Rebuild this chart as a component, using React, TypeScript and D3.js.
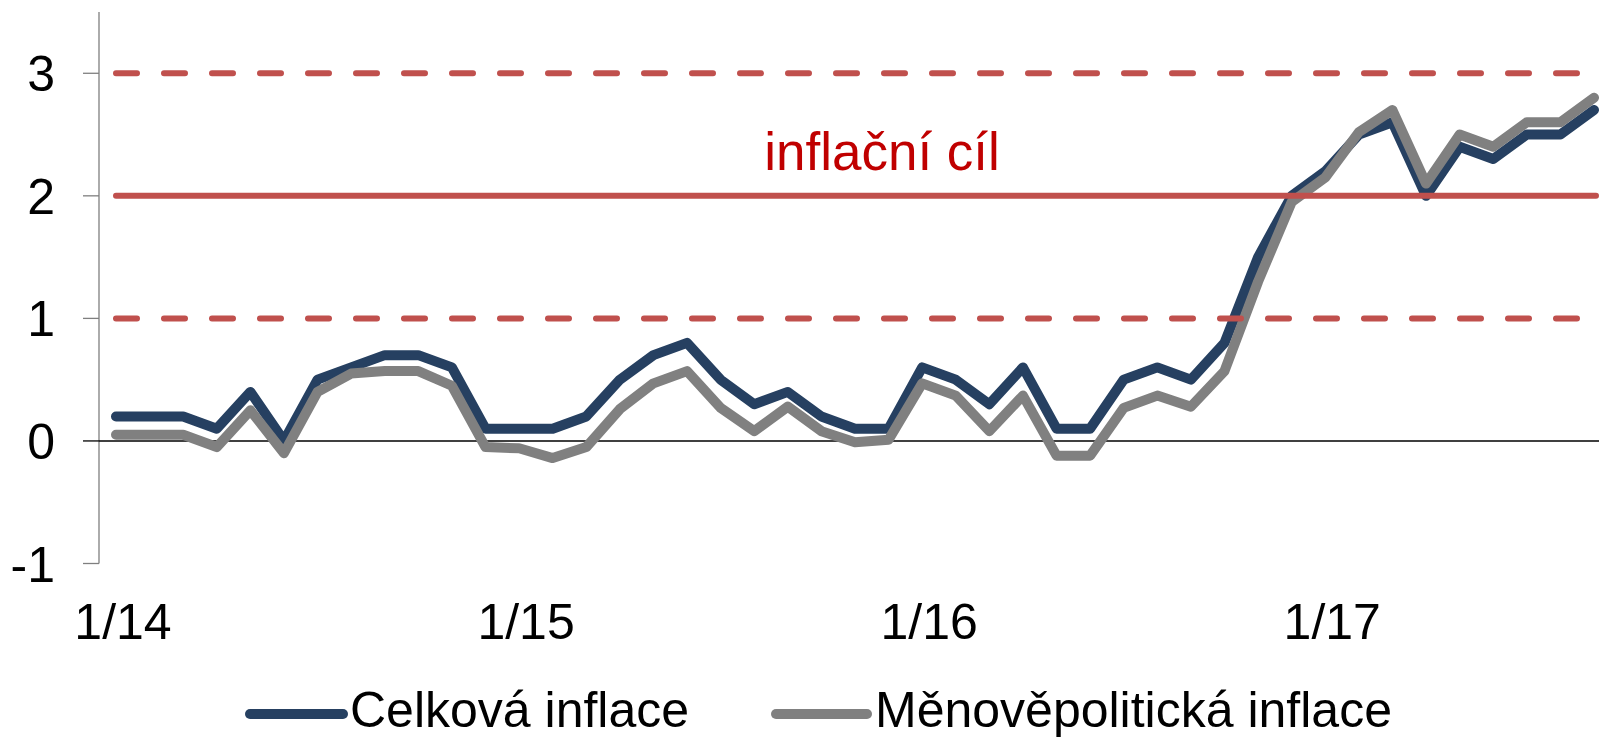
import React from "react";
import * as d3 from "d3";

const months: string[] = [
  "1/14","2/14","3/14","4/14","5/14","6/14","7/14","8/14","9/14","10/14","11/14","12/14",
  "1/15","2/15","3/15","4/15","5/15","6/15","7/15","8/15","9/15","10/15","11/15","12/15",
  "1/16","2/16","3/16","4/16","5/16","6/16","7/16","8/16","9/16","10/16","11/16","12/16",
  "1/17","2/17","3/17","4/17","5/17","6/17","7/17","8/17","9/17",
];

const celkova: number[] = [
  0.2, 0.2, 0.2, 0.1, 0.4, 0.0, 0.5, 0.6, 0.7, 0.7, 0.6, 0.1,
  0.1, 0.1, 0.2, 0.5, 0.7, 0.8, 0.5, 0.3, 0.4, 0.2, 0.1, 0.1,
  0.6, 0.5, 0.3, 0.6, 0.1, 0.1, 0.5, 0.6, 0.5, 0.8, 1.5, 2.0,
  2.2, 2.5, 2.6, 2.0, 2.4, 2.3, 2.5, 2.5, 2.7,
];

const menovepoliticka: number[] = [
  0.05, 0.05, 0.05, -0.05, 0.25, -0.1, 0.4, 0.55, 0.57, 0.57, 0.45, -0.05,
  -0.06, -0.14, -0.05, 0.26, 0.47, 0.57, 0.27, 0.08, 0.28, 0.08, -0.01, 0.01,
  0.47, 0.37, 0.08, 0.37, -0.12, -0.12, 0.27, 0.37, 0.28, 0.57, 1.3, 1.95,
  2.15, 2.52, 2.7, 2.1, 2.5, 2.4, 2.6, 2.6, 2.8,
];

const xTickLabels: string[] = ["1/14", "1/15", "1/16", "1/17"];
const yTicks: number[] = [-1, 0, 1, 2, 3];
const targetValue = 2;
const bandValues: number[] = [1, 3];
const seriesNames: string[] = ["Celková inflace", "Měnověpolitická inflace"];
const targetLabel = "inflační cíl";

const W = 1599;
const H = 739;
const FONT = "'Liberation Sans', Arial, Helvetica, sans-serif";
const BLUE = "#264061";
const GREY = "#808080";
const RED = "#C0504D";
const RED_TEXT = "#C00000";

export default function App() {
  const x = d3.scalePoint<string>().domain(months).range([116, 1594]);
  const y = d3.scaleLinear().domain([-1, 3.5]).range([563.5, 12]);

  const line = d3
    .line<number>()
    .x((_, i) => x(months[i]) as number)
    .y((d) => y(d));

  const axisX = 99;
  const lineStart = x(months[0]) as number;

  return (
    <svg
      width={W}
      height={H}
      style={{ position: "absolute", left: 0, top: 0, background: "#fff" }}
      fontFamily={FONT}
    >
      {/* y axis */}
      <line x1={axisX} x2={axisX} y1={y(3.5)} y2={y(-1)} stroke="#7f7f7f" strokeWidth={1.3} />
      {yTicks.map((t) => (
        <g key={t}>
          <line x1={83} x2={axisX} y1={y(t)} y2={y(t)} stroke={t === 0 ? "#000" : "#7f7f7f"} strokeWidth={1.3} />
          <text x={55} y={y(t)} dy="0.36em" textAnchor="end" fontSize={50} fill="#000">
            {t}
          </text>
        </g>
      ))}
      {/* zero line */}
      <line x1={axisX} x2={W} y1={y(0)} y2={y(0)} stroke="#000" strokeWidth={1.5} />

      {/* x tick labels */}
      {xTickLabels.map((lab) => (
        <text key={lab} x={(x(lab) as number) + 7} y={639} textAnchor="middle" fontSize={50} fill="#000">
          {lab}
        </text>
      ))}

      {/* series */}
      <path d={line(celkova) || ""} fill="none" stroke={BLUE} strokeWidth={10} strokeLinejoin="round" strokeLinecap="round" />
      <path d={line(menovepoliticka) || ""} fill="none" stroke={GREY} strokeWidth={10} strokeLinejoin="round" strokeLinecap="round" />

      {/* target lines */}
      {bandValues.map((v) => (
        <line
          key={v}
          x1={lineStart}
          x2={1598}
          y1={y(v)}
          y2={y(v)}
          stroke={RED}
          strokeWidth={6}
          strokeLinecap="round"
          strokeDasharray="21 27"
        />
      ))}
      <line x1={lineStart} x2={1596} y1={y(targetValue)} y2={y(targetValue)} stroke={RED} strokeWidth={6} strokeLinecap="round" />
      <text x={882} y={170} textAnchor="middle" fontSize={53} fill={RED_TEXT}>
        {targetLabel}
      </text>

      {/* legend */}
      <line x1={250} x2={343} y1={714} y2={714} stroke={BLUE} strokeWidth={10} strokeLinecap="round" />
      <text x={350} y={727} fontSize={50} fill="#000">{seriesNames[0]}</text>
      <line x1={776} x2={867} y1={714} y2={714} stroke={GREY} strokeWidth={10} strokeLinecap="round" />
      <text x={875} y={727} fontSize={50} fill="#000">{seriesNames[1]}</text>
    </svg>
  );
}
